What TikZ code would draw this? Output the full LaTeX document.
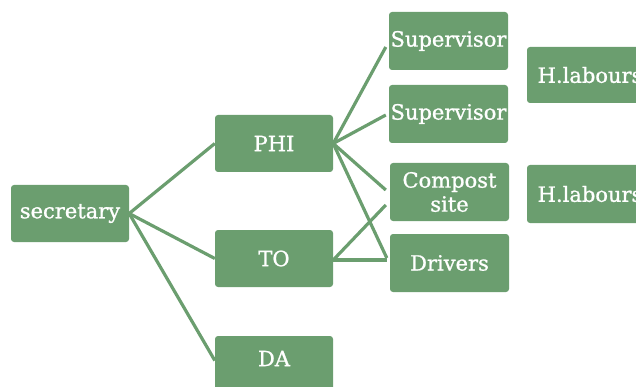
\documentclass[tikz,border=0pt]{standalone}
\usepackage{fontspec}
\setmainfont{DejaVu Serif}[FakeBold=1.0]
\usetikzlibrary{calc}
\definecolor{leaf}{HTML}{6B9E6F}
\begin{document}
\begin{tikzpicture}[x=1pt,y=-1pt,
  box/.style={fill=leaf, rounded corners=3pt, inner sep=0pt,
    minimum width=118pt, minimum height=57pt, text=white,
    font=\fontsize{21}{24}\selectfont, align=center},
  link/.style={draw=leaf, line width=3.2pt}]
\useasboundingbox (0,0) rectangle (636,387);
\clip (0,0) rectangle (636,387);

% first level
\node[box] (sec) at (70,213.5) {secretary};
% second level
\node[box] (phi) at (274,143.5) {PHI};
\node[box] (to)  at (274,258.5) {TO};
\node[box] (da)  at (274,364.5) {\raisebox{12pt}{DA}};
% third level
\node[box, minimum width=119pt, minimum height=58pt] (sup1) at (448.5,41) {Supervisor};
\node[box, minimum width=119pt, minimum height=58pt] (sup2) at (448.5,114) {Supervisor};
\node[box, minimum width=119pt, minimum height=58pt] (comp) at (449.5,192) {Compost\\site};
\node[box, minimum width=119pt, minimum height=58pt] (drv)  at (449.5,263) {Drivers};
% fourth level
\node[box, minimum width=122pt, minimum height=56pt] (hl1) at (588,75) {\hspace*{4pt}H.labours};
\node[box, minimum width=122pt, minimum height=58pt] (hl2) at (588,194) {\hspace*{4pt}H.labours};

% connectors
\draw[link] (sec.east) -- (phi.west);
\draw[link] (sec.east) -- (to.west);
\draw[link] (sec.east) -- ($(da.west)+(0,-4)$);
\draw[link] (phi.east) -- ($(sup1.west)+(-3,6)$);
\draw[link] (phi.east) -- ($(sup2.west)+(-3,1)$);
\draw[link] (phi.east) -- ($(comp.west)+(-4,-2)$);
\draw[link] (phi.east) -- ($(drv.west)+(-3,-5)$);
\draw[link] ($(to.east)+(0,1.5)$) -- ($(comp.west)+(-4,13)$);
\draw[link] ($(to.east)+(0,1.5)$) -- ($(drv.west)+(-3,-3)$);
\end{tikzpicture}
\end{document}
